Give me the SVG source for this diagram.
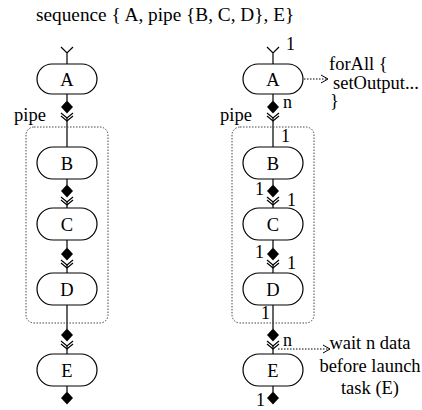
<svg xmlns="http://www.w3.org/2000/svg" width="422" height="410" viewBox="0 0 422 410">
<style>
text{font-family:"Liberation Serif","Times New Roman",serif;font-size:18.5px;fill:#000}
.t{font-size:19.3px}
.s{font-size:18px}
.n{fill:#fff;stroke:#000;stroke-width:1.2}
.l{stroke:#000;stroke-width:1.2;fill:none}
.d{fill:#000;stroke:none}
.box{fill:none;stroke:#444;stroke-width:1;stroke-dasharray:1.5 1.5}
.dot{stroke:#000;stroke-width:1;fill:none;stroke-dasharray:1.5 1.5}
.c{text-anchor:middle}
</style>
<defs>
<marker id="open" markerWidth="10" markerHeight="10" refX="8" refY="5" orient="auto" markerUnits="userSpaceOnUse">
<path d="M1,1 L8,5 L1,9" fill="none" stroke="#000" stroke-width="1"/>
</marker>
<g id="inY"><path class="l" d="M-6,0 L0,6 L6,0 M0,6 L0,17"/></g>
<path id="dia" class="d" d="M0,-6.5 L6,0 L0,6.5 L-6,0 Z"/>
<path id="chev" class="l" d="M-6,0 L0,5 L6,0 M-6,3 L0,8 L6,3"/>
</defs>
<text class="t" x="36" y="21">sequence { A, pipe {B, C, D}, E}</text>
<g id="connectors">
<use href="#inY" x="67" y="47"/>
<path class="l" d="M67,94 V101 M67,118 V147 M67,179 V185 M67,202 V208 M67,240 V248 M67,265 V273 M67,305 V329 M67,346 V354 M67,386 V392"/>
<use href="#dia" x="67" y="107"/>
<use href="#chev" x="67" y="113"/>
<use href="#dia" x="67" y="191"/>
<use href="#chev" x="67" y="197"/>
<use href="#dia" x="67" y="254"/>
<use href="#chev" x="67" y="260"/>
<use href="#dia" x="67" y="335"/>
<use href="#chev" x="67" y="341"/>
<use href="#dia" x="67" y="398"/>
<use href="#inY" x="273" y="47"/>
<path class="l" d="M273,94 V101 M273,118 V147 M273,179 V185 M273,202 V208 M273,240 V248 M273,265 V273 M273,305 V329 M273,346 V354 M273,386 V392"/>
<use href="#dia" x="273" y="107"/>
<use href="#chev" x="273" y="113"/>
<use href="#dia" x="273" y="191"/>
<use href="#chev" x="273" y="197"/>
<use href="#dia" x="273" y="254"/>
<use href="#chev" x="273" y="260"/>
<use href="#dia" x="273" y="335"/>
<use href="#chev" x="273" y="341"/>
<use href="#dia" x="273" y="398"/>
<path class="dot" d="M295,79 H328" marker-end="url(#open)"/>
<path class="dot" d="M278,349 H330" marker-end="url(#open)"/>
</g>
<rect class="box" x="26" y="127" width="82" height="196" rx="8"/>
<rect class="box" x="232" y="127" width="82" height="196" rx="8"/>
<text x="14" y="121">pipe</text>
<text x="220" y="121">pipe</text>
<g id="A1"><rect class="n" x="37" y="64" width="60" height="30" rx="15"/><text class="c" x="67" y="86">A</text></g>
<g id="B1"><rect class="n" x="37" y="147" width="60" height="32" rx="16"/><text class="c" x="67" y="170">B</text></g>
<g id="C1"><rect class="n" x="37" y="208" width="60" height="32" rx="16"/><text class="c" x="67" y="231">C</text></g>
<g id="D1"><rect class="n" x="37" y="273" width="60" height="32" rx="16"/><text class="c" x="67" y="296">D</text></g>
<g id="E1"><rect class="n" x="37" y="354" width="60" height="32" rx="16"/><text class="c" x="67" y="377">E</text></g>
<g id="A2"><rect class="n" x="243" y="64" width="60" height="30" rx="15"/><text class="c" x="273" y="86">A</text></g>
<g id="B2"><rect class="n" x="243" y="147" width="60" height="32" rx="16"/><text class="c" x="273" y="170">B</text></g>
<g id="C2"><rect class="n" x="243" y="208" width="60" height="32" rx="16"/><text class="c" x="273" y="231">C</text></g>
<g id="D2"><rect class="n" x="243" y="273" width="60" height="32" rx="16"/><text class="c" x="273" y="296">D</text></g>
<g id="E2"><rect class="n" x="243" y="354" width="60" height="32" rx="16"/><text class="c" x="273" y="377">E</text></g>
<g id="labels">
<text class="s" x="286" y="50">1</text>
<text class="s" x="283" y="108">n</text>
<text class="s" x="281" y="142">1</text>
<text class="s" x="255" y="195">1</text>
<text class="s" x="287" y="206">1</text>
<text class="s" x="255" y="258">1</text>
<text class="s" x="287" y="269">1</text>
<text class="s" x="261" y="319">1</text>
<text class="s" x="283" y="346">n</text>
<text class="s" x="256" y="406">1</text>
<text x="329" y="70">forAll {</text>
<text x="333" y="89">setOutput...</text>
<text x="330" y="107">}</text>
<text class="c" x="370" y="349">wait n data</text>
<text class="c" x="370" y="372">before launch</text>
<text class="c" x="370" y="394">task (E)</text>
</g>
</svg>
